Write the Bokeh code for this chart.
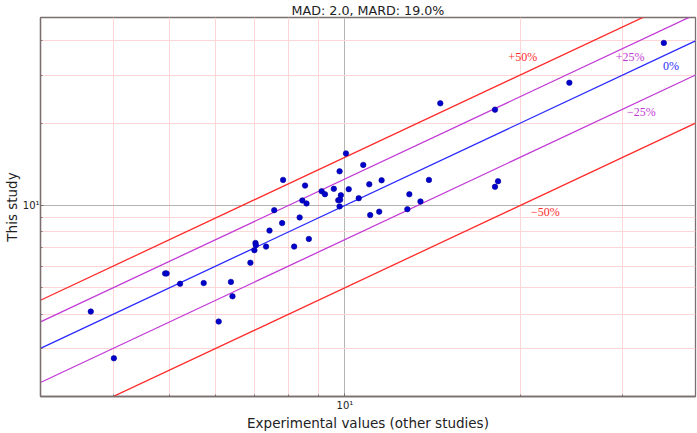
from bokeh.plotting import figure
from bokeh.models import FixedTicker, Label, ColumnDataSource
from bokeh.embed import file_html
from bokeh.resources import INLINE

# ---- data ----
exp_values = [3.66, 4.01, 4.91, 4.94, 5.21, 5.72, 6.37, 6.41, 6.07, 10.04,
              9.79, 7.83, 8.54, 9.12, 9.24, 9.57, 10.15, 9.84, 9.74, 9.81,
              9.79, 8.45, 8.59, 7.56, 7.80, 8.36, 7.42, 7.02, 7.03, 6.99,
              7.32, 8.18, 8.67, 6.88, 14.58, 10.75, 11.01, 11.56, 10.56, 11.05,
              11.45, 12.90, 13.94, 13.48, 12.80, 35.29, 24.29, 18.10, 18.32, 18.10]
study_values = [4.09, 2.76, 5.64, 5.64, 5.17, 5.20, 5.25, 4.65, 3.76, 15.50,
                13.33, 12.40, 11.82, 11.27, 10.99, 11.50, 11.47, 10.90, 10.45, 10.49,
                9.92, 10.43, 10.17, 9.61, 8.62, 9.04, 8.09, 7.29, 7.15, 6.86,
                7.07, 7.07, 7.54, 6.17, 23.64, 14.07, 11.95, 12.36, 10.63, 9.22,
                9.49, 10.99, 12.40, 10.34, 9.69, 39.31, 28.11, 22.41, 12.26, 11.70]

band_ratios = [1.5, 1.25, 1.0, 0.75, 0.5]
band_labels = ["+50%", "+25%", "0%", "\u221225%", "\u221250%"]
band_colors = ["#ff2b2b", "#c23ad6", "#2a2aff", "#c23ad6", "#ff2b2b"]

x_major = [10]
x_minor = [3, 4, 5, 6, 7, 8, 9, 20, 30, 40]
y_major = [10]
y_minor = [2, 3, 4, 5, 6, 7, 8, 9, 20, 30, 40]
tick_text = {10: "10\u00b9"}

title_text = "MAD: 2.0, MARD: 19.0%"
x_title = "Experimental values (other studies)"
y_title = "This study"

# ---- figure ----
x_lo, x_hi = 3, 40
y_lo, y_hi = 2, 48.7
W, H = 697, 433
BL, BR, BT, BB = 40, 2, 15, 37

p = figure(width=W, height=H, x_axis_type="log", y_axis_type="log",
           x_range=(x_lo, x_hi), y_range=(y_lo, y_hi),
           output_backend="svg", toolbar_location=None,
           min_border_left=BL, min_border_right=BR,
           min_border_top=0, min_border_bottom=BB,
           title=title_text)

p.title.align = "center"
p.title.text_font = "DejaVu Sans"
p.title.text_font_size = "12.7px"
p.title.text_font_style = "normal"
p.title.text_color = "#222222"
p.title.standoff = 0
p.title.offset = 0

spine = "#7a6e6e"
p.outline_line_color = spine
p.outline_line_width = 1.3
p.background_fill_color = "white"
p.border_fill_color = "white"

xt = FixedTicker(ticks=x_major, minor_ticks=x_minor)
yt = FixedTicker(ticks=y_major, minor_ticks=y_minor)
p.xaxis.ticker = xt
p.yaxis.ticker = yt
p.xgrid.ticker = xt
p.ygrid.ticker = yt

for g in (p.xgrid, p.ygrid):
    g.grid_line_color = "#b4b4b4"
    g.grid_line_width = 1
    g.minor_grid_line_color = "#ffd6d6"
    g.minor_grid_line_width = 1

for ax in (p.xaxis, p.yaxis):
    ax.major_label_overrides = tick_text
    ax.axis_line_color = spine
    ax.axis_line_width = 1.3
    ax.major_tick_line_color = spine
    ax.minor_tick_line_color = spine
    ax.major_tick_in = 3
    ax.major_tick_out = 0
    ax.minor_tick_in = 2
    ax.minor_tick_out = 0
    ax.major_label_text_font = "DejaVu Sans"
    ax.major_label_text_font_size = "10px"
    ax.major_label_text_color = "#222222"
    ax.axis_label_text_font = "DejaVu Sans"
    ax.axis_label_text_font_style = "normal"
    ax.axis_label_text_font_size = "13.5px"
    ax.axis_label_text_color = "#222222"

p.xaxis.axis_label = x_title
p.yaxis.axis_label = y_title
p.xaxis.major_label_standoff = 3
p.xaxis.axis_label_standoff = 1
p.yaxis.major_label_standoff = 1
p.yaxis.axis_label_standoff = 0

# reference lines y = r * x
for r, c in zip(band_ratios, band_colors):
    xs = [x_lo, x_hi]
    ys = [r * v for v in xs]
    p.line(xs, ys, line_color=c, line_width=1.3)

# band labels
label_pos = [(20.2, 34.9), (30.9, 34.9), (36.3, 32.3), (32.3, 22.0), (22.1, 9.45)]
for (lx, ly), t, c in zip(label_pos, band_labels, band_colors):
    p.add_layout(Label(x=lx, y=ly, text=t, text_color=c,
                       text_font="Liberation Serif", text_font_size="12px",
                       text_align="center", text_baseline="middle"))

src = ColumnDataSource(dict(x=exp_values, y=study_values))
p.scatter("x", "y", source=src, size=5.5, fill_color="#0000cc",
          line_color="#00009a", line_width=0.6)

open("out.html", "w").write(file_html(p, INLINE))
